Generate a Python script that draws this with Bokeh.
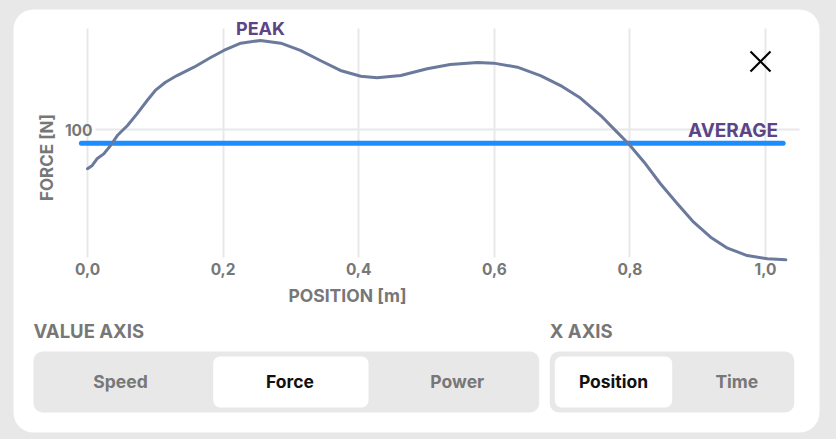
from bokeh.plotting import figure
from bokeh.models import (Range1d, FixedTicker, BoxAnnotation, Label, LinearAxis, Grid,
                          GlobalInlineStyleSheet)
from bokeh.embed import file_html
from bokeh.resources import INLINE
import math

# ---------------- data ----------------
position = [0.000, 0.007, 0.014, 0.024, 0.034, 0.044, 0.059, 0.073, 0.088, 0.100,
            0.115, 0.132, 0.157, 0.181, 0.201, 0.226, 0.255, 0.285, 0.314, 0.344,
            0.373, 0.403, 0.427, 0.462, 0.501, 0.535, 0.575, 0.599, 0.634, 0.668,
            0.700, 0.727, 0.757, 0.781, 0.798, 0.821, 0.845, 0.870, 0.894, 0.919,
            0.944, 0.973, 1.003, 1.030]
force = [70.2, 72.7, 77.8, 81.6, 88.0, 95.6, 103.3, 112.2, 122.4, 130.1,
         136.4, 141.5, 147.9, 155.1, 160.7, 166.3, 168.3, 166.3, 160.7, 152.8,
         145.4, 141.0, 139.8, 141.5, 146.7, 150.0, 151.5, 151.0, 147.9, 141.5,
         133.2, 124.3, 110.9, 98.2, 89.3, 75.2, 58.7, 43.4, 29.3, 17.8,
         9.4, 3.8, 1.3, 0.5]
average_force = 89.8
average_extent = [-0.009, 1.026]

x_ticks = [0.0, 0.2, 0.4, 0.6, 0.8, 1.0]
x_tick_labels = ["0,0", "0,2", "0,4", "0,6", "0,8", "1,0"]
y_ticks = [100]
y_tick_labels = ["100"]

value_axis_options = ["Speed", "Force", "Power"]
x_axis_options = ["Position", "Time"]
selected_value = "Force"
selected_x = "Position"

# ---------------- style ----------------
FONT = "Inter"
GRAY_BG = "#e8e8e8"
TEXT_GRAY = "#777777"
PURPLE = "#5c4585"
CURVE = "#6b7a9c"
BLUE = "#1c8dff"
GRID = "#e8e8e8"

W, H = 836, 439
# chart area in page pixels and the data extents it shows
FL, FT, FR, FB = 79, 28, 799, 260
X0, X1 = -0.0118, 1.0501
Y0, Y1 = 0.0, 177.5
SXP = (FR - FL) / (X1 - X0)
SYP = (FB - FT) / (Y1 - Y0)


def dx(px):
    return X0 + (px - FL) / SXP


def dy(py):
    return Y0 + (FB - py) / SYP


p = figure(width=W, height=H, output_backend="svg", toolbar_location=None,
           title=None, x_axis_location=None, y_axis_location=None,
           x_range=Range1d(0, W), y_range=Range1d(0, H),
           min_border=0, min_border_left=0, min_border_right=0,
           min_border_top=0, min_border_bottom=0,
           border_fill_color=GRAY_BG, background_fill_color=GRAY_BG,
           outline_line_color=None)
# drop the default grids of the pixel ranges
p.center = [r for r in p.center if not isinstance(r, Grid)]
p.stylesheets.append(GlobalInlineStyleSheet(css="body { background: %s; }" % GRAY_BG))
p.extra_x_ranges = {"cx": Range1d(dx(0), dx(W))}
p.extra_y_ranges = {"cy": Range1d(dy(H), dy(0))}


def box(x0, y0, x1, y1, color, radius):
    b = BoxAnnotation(left=x0, right=x1, top=H - y0, bottom=H - y1,
                      fill_color=color, fill_alpha=1, line_color=None,
                      border_radius=int(radius), level="image")
    p.add_layout(b)
    return b


def label(text, X, Y, size, color, align="center", angle=0, font=FONT, style="bold"):
    lb = Label(x=X, y=H - Y, text=text,
               text_font=font, text_font_style=style, text_font_size=size,
               text_color=color, text_align=align, text_baseline="middle",
               angle=angle, level="overlay")
    p.add_layout(lb)
    return lb


# white card and segmented controls
box(13, 9, 819, 432, "white", 20)
box(33, 351, 538.7, 412, GRAY_BG, 9)
box(212.7, 356, 368, 407, "white", 7)
box(549.3, 351, 793.7, 412, GRAY_BG, 9)
box(554.3, 356, 671.7, 407, "white", 7)

# grids
xgrid = Grid(dimension=0, ticker=FixedTicker(ticks=x_ticks), x_range_name="cx",
             y_range_name="cy", grid_line_color=GRID, grid_line_width=2)
ygrid = Grid(dimension=1, ticker=FixedTicker(ticks=y_ticks), x_range_name="cx",
             y_range_name="cy", grid_line_color=GRID, grid_line_width=2)
if "cross_bounds" in Grid.properties():
    xgrid.cross_bounds = (dy(257), Y1)
    ygrid.cross_bounds = (dx(95), X1)
p.add_layout(xgrid, "center")
p.add_layout(ygrid, "center")

# axes (drawn at fixed locations inside the canvas)
xaxis = LinearAxis(x_range_name="cx", y_range_name="cy", fixed_location=Y0,
                   ticker=FixedTicker(ticks=x_ticks),
                   major_label_overrides={t: l for t, l in zip(x_ticks, x_tick_labels)})
yaxis = LinearAxis(x_range_name="cx", y_range_name="cy", fixed_location=X0,
                   ticker=FixedTicker(ticks=y_ticks),
                   major_label_overrides={t: l for t, l in zip(y_ticks, y_tick_labels)})
for ax in (xaxis, yaxis):
    ax.axis_line_color = None
    ax.major_tick_line_color = None
    ax.minor_tick_line_color = None
    ax.major_tick_out = 0
    ax.major_tick_in = 0
    ax.major_label_text_font = FONT
    ax.major_label_text_font_style = "bold"
    ax.major_label_text_font_size = "15.5px"
    ax.major_label_text_color = TEXT_GRAY
xaxis.major_label_standoff = 2
yaxis.major_label_standoff = -13
p.add_layout(xaxis, "below")
p.add_layout(yaxis, "left")

# data marks
p.line(average_extent, [average_force, average_force], line_width=5, color=BLUE,
       line_cap="round", x_range_name="cx", y_range_name="cy")
p.line(position, force, line_width=3, color=CURVE, line_join="round", line_cap="round",
       x_range_name="cx", y_range_name="cy")

# close icon
p.segment(x0=[750, 770], y0=[H - 51, H - 51], x1=[770, 750], y1=[H - 71, H - 71],
          line_color="black", line_width=2.2)

# chart texts
label("PEAK", 260, 28, "18px", PURPLE)
label("AVERAGE", 732.5, 129.5, "19px", PURPLE)
label("FORCE [N]", 46, 157, "17px", TEXT_GRAY, angle=math.pi / 2)
label("POSITION [m]", 347, 295, "17.5px", TEXT_GRAY)

# control texts
label("VALUE AXIS", 33, 330, "18.5px", TEXT_GRAY, align="left")
label("X AXIS", 549.3, 330, "18.5px", TEXT_GRAY, align="left")
value_centers = [120, 289.5, 456.8]
for name, cx in zip(value_axis_options, value_centers):
    label(name, cx, 381, "17.5px", "#111111" if name == selected_value else TEXT_GRAY)
x_centers = [613, 736.3]
for name, cx in zip(x_axis_options, x_centers):
    label(name, cx, 381, "17.5px", "#111111" if name == selected_x else TEXT_GRAY)

open("out.html", "w").write(file_html(p, INLINE))
